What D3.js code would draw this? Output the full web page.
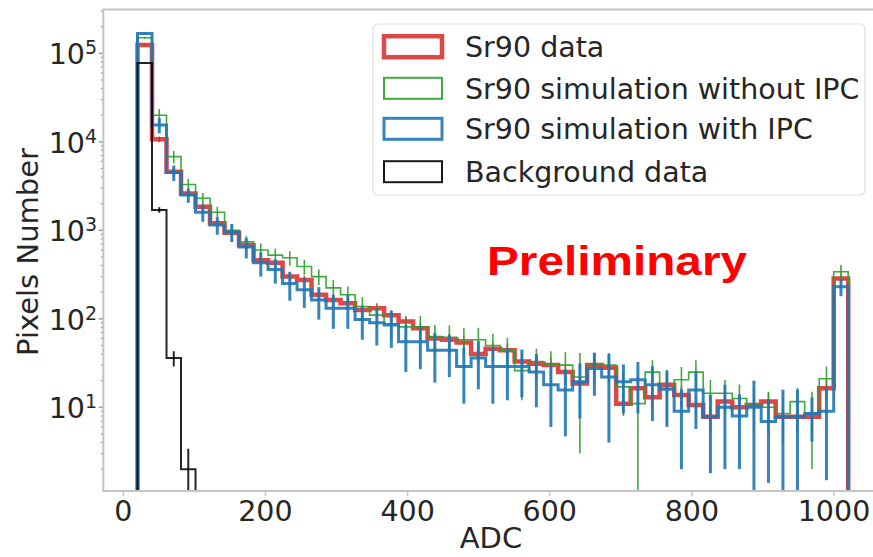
<!DOCTYPE html>
<html>
<head>
<meta charset="utf-8">
<script src="https://cdn.jsdelivr.net/npm/d3@7"></script>
<style>
  html, body { margin: 0; padding: 0; background: #fff; }
  svg { display: block; font-family: "DejaVu Sans", sans-serif; }
</style>
</head>
<body>
<svg id="chart" width="873" height="557"></svg>
<script>
// ---- data -------------------------------------------------------------
const adcMin = 20, adcMax = 1020, nBins = 49;   // histogram binning (ADC)
const xTicks = [0, 200, 400, 600, 800, 1000];
const yTicks = [10, 100, 1000, 10000, 100000];
const yTickExp = ["1", "2", "3", "4", "5"];

const sr90Data = [124000, 10700, 4600, 2600, 1850, 1200, 940, 680, 460, 430, 300, 275, 187, 163, 150, 126, 132,
  110, 93, 78, 60, 58, 54, 40, 46, 44, 33, 31, 30, 25, 18.6, 30, 28, 11, 16.4, 13, 18, 13.8, 10.6, 7.8, 11.6,
  10, 10.6, 11.6, 7.8, 7.8, 7.8, 16.4, 286];
const sr90DataErr = [3000, 800, 350, 220, 160, 110, 90, 70, 50, 45, 35, 32, 24, 21, 20, 17, 18, 15, 13, 12, 10,
  10, 9, 8, 8, 8, 6, 6, 6, 5, 4, 5.5, 5, 3, 4, 3.5, 4, 3.5, 3, 2.5, 3, 3, 3, 3, 2.5, 2.5, 2.5, 4, 30];

const simNoIPC = [150000, 20000, 6800, 3300, 2300, 1600, 1000, 740, 600, 525, 490, 390, 300, 224, 187, 138, 110,
  88, 81, 81, 63, 62, 58, 58, 50, 44, 26, 33, 31, 30, 22, 30, 30, 17, 11, 25, 16.4, 20.5, 25, 14.4, 14.4, 12.6,
  10.6, 10, 8.5, 11.6, 8.5, 21, 340];
const simNoIPCErr = [4000, 3500, 1100, 500, 350, 250, 170, 130, 110, 100, 90, 75, 60, 50, 45, 38, 32, 28, 26, 27,
  22, 22, 20, 21, 18, 17, 14, 13, 12, 12, 19, 11, 11, 8, 10.8, 9, 10, 8, 9, 6, 6, 5.5, 5.5, 5, 4.5, 5, 6.5, 8, 65];

const simIPC = [168000, 15500, 4500, 2500, 1600, 1150, 960, 650, 430, 360, 250, 213, 163, 132, 132, 98, 90, 85,
  55, 55, 44, 44, 29, 36, 29, 29, 29, 25, 18, 15.7, 19.5, 27.5, 22, 19.5, 20.5, 18, 16, 9, 15.7, 7.8, 10, 8, 10,
  6.9, 7.8, 7.8, 8.5, 9, 230];
const simIPCErr = [5000, 3000, 900, 450, 350, 260, 220, 170, 130, 110, 90, 80, 65, 55, 55, 40, 40, 38, 30, 28, 25,
  22, 18, 20, 18, 17, 16, 15, 12, 11, 12, 14, 18, 11, 12, 11, 10, 7, 10, 6, 8, 6, 10, 5.5, 8, 8, 4.4, 7.5, 50];

const bkgData = [78000, 1700, 36, 2, 0, 0, 0, 0, 0, 0, 0, 0, 0, 0, 0, 0, 0, 0, 0, 0, 0, 0, 0, 0, 0, 0, 0, 0, 0,
  0, 0, 0, 0, 0, 0, 0, 0, 0, 0, 0, 0, 0, 0, 0, 0, 0, 0, 0, 0];
const bkgErr = [800, 120, 7, 1.4, 0, 0, 0, 0, 0, 0, 0, 0, 0, 0, 0, 0, 0, 0, 0, 0, 0, 0, 0, 0, 0, 0, 0, 0, 0,
  0, 0, 0, 0, 0, 0, 0, 0, 0, 0, 0, 0, 0, 0, 0, 0, 0, 0, 0, 0];

const seriesNames = ["Sr90 data", "Sr90 simulation without IPC", "Sr90 simulation with IPC", "Background data"];
const seriesColors = ["#d62728", "#2ca02c", "#1f77b4", "#000000"];

// ---- layout -----------------------------------------------------------
const plot = { left: 103.3, right: 884, top: 9.5, bottom: 491 };
const svg = d3.select("#chart");

const x = d3.scaleLinear().domain([0, 1000]).range([123.3, 834]);
const y = d3.scaleLog().domain([1.133, 313000]).range([plot.bottom, plot.top]);

const binW = (adcMax - adcMin) / nBins;
const edges = d3.range(nBins + 1).map(i => adcMin + i * binW);

svg.append("defs").append("clipPath").attr("id", "clip")
  .append("rect").attr("x", plot.left).attr("y", plot.top)
  .attr("width", plot.right - plot.left).attr("height", plot.bottom - plot.top);

const dataG = svg.append("g").attr("clip-path", "url(#clip)");

function yv(v) { return v > 0 ? y(v) : plot.bottom + 30; }

function stepPath(vals) {
  const p = d3.path();
  p.moveTo(x(edges[0]), plot.bottom + 30);
  vals.forEach((v, i) => {
    p.lineTo(x(edges[i]), yv(v));
    p.lineTo(x(edges[i + 1]), yv(v));
  });
  p.lineTo(x(edges[nBins]), plot.bottom + 30);
  return p.toString();
}

function drawSeries(vals, errs, color, lw, ew, opacity) {
  const g = dataG.append("g");
  g.append("path").attr("d", stepPath(vals)).attr("fill", "none")
    .attr("stroke", color).attr("stroke-width", lw).attr("stroke-opacity", opacity)
    .attr("stroke-linejoin", "miter");
  g.selectAll("line.err").data(vals.map((v, i) => ({ v, e: errs[i], i })).filter(d => d.v > 0 && d.e > 0))
    .join("line").attr("class", "err")
    .attr("x1", d => x((edges[d.i] + edges[d.i + 1]) / 2))
    .attr("x2", d => x((edges[d.i] + edges[d.i + 1]) / 2))
    .attr("y1", d => yv(d.v - d.e))
    .attr("y2", d => y(d.v + d.e))
    .attr("stroke", color).attr("stroke-width", ew).attr("stroke-opacity", opacity);
}

drawSeries(sr90Data, sr90DataErr, seriesColors[0], 4.5, 1.5, 0.85);
drawSeries(simNoIPC, simNoIPCErr, seriesColors[1], 1.6, 1.6, 0.9);
drawSeries(simIPC, simIPCErr, seriesColors[2], 3, 3, 0.9);
drawSeries(bkgData, bkgErr, seriesColors[3], 2, 2, 0.85);

// ---- axes -------------------------------------------------------------
const frameColor = "#c4c4c4";
const axisFont = 28.5;

// x axis ticks
const xg = svg.append("g");
xTicks.forEach(t => {
  xg.append("line").attr("x1", x(t)).attr("x2", x(t)).attr("y1", plot.bottom).attr("y2", plot.bottom + 5)
    .attr("stroke", frameColor).attr("stroke-width", 1.5);
  xg.append("text").attr("x", x(t)).attr("y", 520.5).attr("text-anchor", "middle")
    .attr("font-size", axisFont).attr("fill", "#262626").text(t);
});

// y axis ticks (major + minor)
const yg = svg.append("g");
const minor = [];
for (let k = 0; k <= 5; k++) for (let m = 2; m <= 9; m++) {
  const v = m * Math.pow(10, k);
  if (v > y.domain()[0] && v < y.domain()[1]) minor.push(v);
}
minor.forEach(v => {
  yg.append("line").attr("x1", plot.left - 2.5).attr("x2", plot.left).attr("y1", y(v)).attr("y2", y(v))
    .attr("stroke", "#9a9a9a").attr("stroke-width", 1.2);
});
yTicks.forEach((t, i) => {
  yg.append("line").attr("x1", plot.left - 4.5).attr("x2", plot.left).attr("y1", y(t)).attr("y2", y(t))
    .attr("stroke", "#9a9a9a").attr("stroke-width", 1.5);
  const tx = yg.append("text").attr("x", 97).attr("y", y(t) + 11).attr("text-anchor", "end")
    .attr("font-size", axisFont).attr("fill", "#262626");
  tx.append("tspan").text("10");
  tx.append("tspan").attr("font-size", 19).attr("dy", -10).text(yTickExp[i]);
});

// frame
svg.append("rect").attr("x", plot.left).attr("y", plot.top)
  .attr("width", plot.right - plot.left).attr("height", plot.bottom - plot.top)
  .attr("fill", "none").attr("stroke", frameColor).attr("stroke-width", 2);

// axis labels
svg.append("text").attr("x", 491).attr("y", 548).attr("text-anchor", "middle")
  .attr("font-size", 29).attr("fill", "#262626").text("ADC");
svg.append("text").attr("transform", "translate(38,252) rotate(-90)").attr("text-anchor", "middle")
  .attr("font-size", 29).attr("fill", "#262626").text("Pixels Number");

// ---- legend -----------------------------------------------------------
const lg = svg.append("g");
lg.append("rect").attr("x", 373).attr("y", 24).attr("width", 492).attr("height", 171).attr("rx", 5)
  .attr("fill", "#fff").attr("fill-opacity", 0.85).attr("stroke", "#dedede").attr("stroke-width", 1.2);
const rowY = [46.7, 88.3, 128.8, 171.7];
const patchW = [4.5, 2, 3, 2];
seriesNames.forEach((name, i) => {
  lg.append("rect").attr("x", 384).attr("y", rowY[i] - 10.5).attr("width", 58).attr("height", 21)
    .attr("fill", "none").attr("stroke", seriesColors[i]).attr("stroke-width", patchW[i])
    .attr("stroke-opacity", i === 0 ? 0.85 : 0.9);
  lg.append("text").attr("x", 465).attr("y", rowY[i] + 10.5).attr("font-size", 28.5)
    .attr("fill", "#262626").text(name);
});

// ---- annotation -------------------------------------------------------
svg.append("text").attr("x", 487).attr("y", 275).attr("font-family", "'Liberation Sans', Arial, sans-serif")
  .attr("font-weight", "bold").attr("font-size", 40).attr("fill", "#ff0000")
  .attr("textLength", 260).attr("lengthAdjust", "spacingAndGlyphs").text("Preliminary");
</script>
</body>
</html>
